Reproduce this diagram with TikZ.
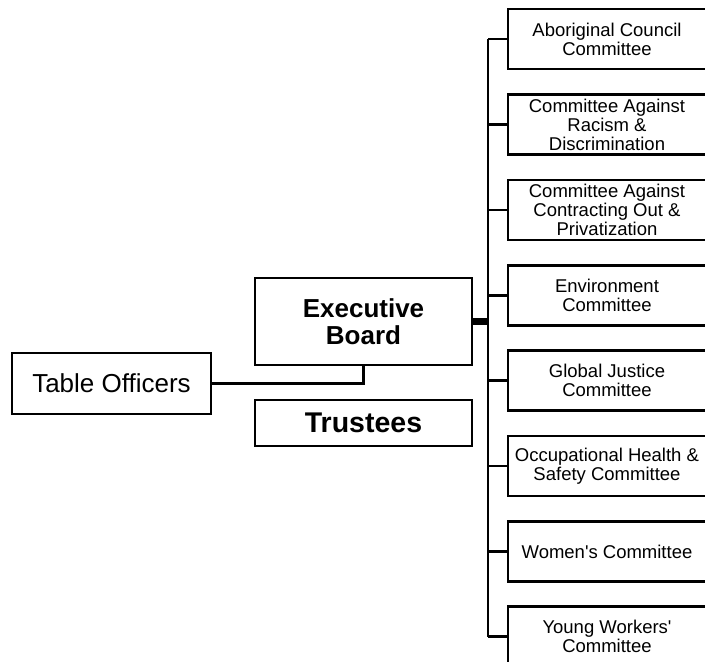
\documentclass[tikz,border=0pt]{standalone}
\usepackage{fontspec}
\newfontfamily\arialfont{Liberation Sans}
\begin{document}
\begin{tikzpicture}[x=1pt,y=-1pt,
  box/.style={draw=black,line width=2.7pt,fill=white,inner sep=0pt,align=center},
  cbox/.style={box,minimum width=198pt,minimum height=60pt,font=\arialfont\fontsize{18.5}{19}\selectfont},
  conn/.style={line width=2.2pt},
  thick conn/.style={line width=6.5pt}]
\useasboundingbox (0,0) rectangle (705,662);
\clip (0,0) rectangle (705,662);
% trunk
\coordinate (ttop) at (488,39);
\coordinate (tbot) at (488,636.5);
\draw[conn] (ttop) -- (tbot);
% committees
\node[cbox] (c1) at (607,39) {Aboriginal Council\\Committee};
\node[cbox] (c2) at (607,124.5) {Committee Against\\Racism \&\\Discrimination};
\node[cbox] (c3) at (607,210) {Committee Against\\Contracting Out \&\\Privatization};
\node[cbox] (c4) at (607,295.5) {Environment\\Committee};
\node[cbox] (c5) at (607,380.5) {Global Justice\\Committee};
\node[cbox] (c6) at (607,466) {Occupational Health \&\\Safety Committee};
\node[cbox] (c7) at (607,551.5) {Women's Committee};
\node[cbox] (c8) at (607,636.5) {Young Workers'\\Committee};
\foreach \c in {c1,c2,c3,c4,c5,c6,c7,c8}
  \draw[conn] (\c.west) -- (\c.west -| ttop);
% left side
\node[box,minimum width=217pt,minimum height=87pt,font=\arialfont\fontsize{26}{26.7}\selectfont\bfseries] (eb) at (363.5,321.5) {Executive\\Board};
\node[box,minimum width=217pt,minimum height=46pt,font=\arialfont\fontsize{28.5}{30}\selectfont\bfseries] (tr) at (363.5,423) {Trustees};
\node[box,minimum width=199pt,minimum height=61pt,font=\arialfont\fontsize{26}{28}\selectfont] (to) at (111.5,383.5) {Table Officers};
\draw[thick conn] (eb.east) -- (eb.east -| ttop);
\draw[conn] (to.east) -| (eb.south);
\end{tikzpicture}
\end{document}
